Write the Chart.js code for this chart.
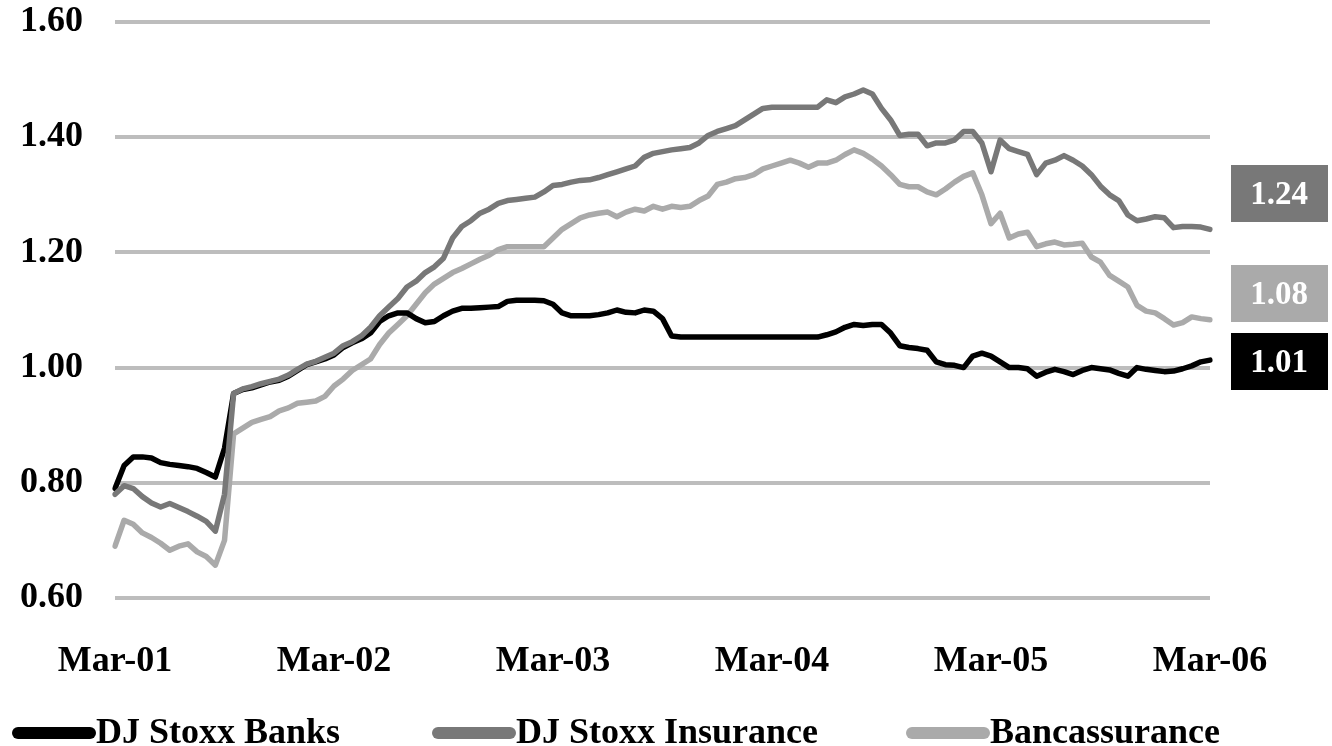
<!DOCTYPE html>
<html>
<head>
<meta charset="utf-8">
<script src="https://cdn.jsdelivr.net/npm/chart.js@4.4.1/dist/chart.umd.min.js"></script>
<style>
  html, body { margin: 0; padding: 0; background: #ffffff; }
  #wrap { width: 1332px; height: 746px; position: relative; }
</style>
</head>
<body>
<div id="wrap"><canvas id="c"></canvas></div>
<script>
// ---- Data (half-month observations, Mar-01 .. Mar-06) ----
const tickLabels = ['Mar-01', 'Mar-02', 'Mar-03', 'Mar-04', 'Mar-05', 'Mar-06'];
const seriesNames = ['DJ Stoxx Banks', 'DJ Stoxx Insurance', 'Bancassurance'];

const banks = [
  0.790, 0.830, 0.845, 0.845, 0.843, 0.835, 0.832, 0.830, 0.828, 0.825,
  0.818, 0.810, 0.860, 0.955, 0.962, 0.965, 0.970, 0.975, 0.978, 0.985,
  0.995, 1.005, 1.010, 1.015, 1.022, 1.035, 1.043, 1.050, 1.060, 1.080,
  1.090, 1.095, 1.095, 1.085, 1.078, 1.080, 1.090, 1.098, 1.103, 1.103,
  1.104, 1.105, 1.106, 1.115, 1.117, 1.117, 1.117, 1.116, 1.110, 1.095,
  1.090, 1.090, 1.090, 1.092, 1.095, 1.100, 1.096, 1.095, 1.100, 1.098,
  1.085, 1.055, 1.053, 1.053, 1.053, 1.053, 1.053, 1.053, 1.053, 1.053,
  1.053, 1.053, 1.053, 1.053, 1.053, 1.053, 1.053, 1.053, 1.057, 1.062,
  1.070, 1.075, 1.073, 1.075, 1.075, 1.060, 1.038, 1.035, 1.033, 1.030,
  1.010, 1.005, 1.004, 1.000, 1.020, 1.025, 1.020, 1.010, 1.000, 1.000,
  0.998, 0.985, 0.992, 0.997, 0.993, 0.988, 0.995, 1.000, 0.998, 0.996,
  0.990, 0.985, 1.000, 0.997, 0.995, 0.993, 0.994, 0.998, 1.003, 1.010,
  1.013
];

const insurance = [
  0.780, 0.795, 0.790, 0.776, 0.765, 0.758, 0.764, 0.757, 0.750, 0.742,
  0.733, 0.716, 0.780, 0.955, 0.963, 0.967, 0.972, 0.976, 0.980, 0.987,
  0.997, 1.006, 1.011, 1.018, 1.025, 1.038, 1.045, 1.055, 1.070, 1.090,
  1.105, 1.120, 1.140, 1.150, 1.165, 1.175, 1.190, 1.225, 1.245, 1.255,
  1.268, 1.275, 1.285, 1.290, 1.292, 1.294, 1.296, 1.305, 1.316, 1.318,
  1.322, 1.325, 1.326, 1.330, 1.335, 1.340, 1.345, 1.350, 1.365, 1.372,
  1.375, 1.378, 1.380, 1.382, 1.390, 1.403, 1.410, 1.415, 1.420, 1.430,
  1.440, 1.450, 1.452, 1.452, 1.452, 1.452, 1.452, 1.452, 1.465, 1.460,
  1.470, 1.475, 1.482, 1.475, 1.450, 1.430, 1.403, 1.405, 1.405, 1.385,
  1.390, 1.390, 1.395, 1.410, 1.410, 1.390, 1.340, 1.395, 1.380, 1.375,
  1.370, 1.335, 1.355, 1.360, 1.368, 1.360, 1.350, 1.335, 1.315, 1.300,
  1.290, 1.265, 1.255, 1.258, 1.262, 1.260, 1.243, 1.245, 1.245, 1.244,
  1.240
];

const bancassurance = [
  0.690, 0.735, 0.728, 0.713, 0.705, 0.695, 0.683, 0.690, 0.694, 0.680,
  0.672, 0.657, 0.700, 0.885, 0.895, 0.905, 0.910, 0.915, 0.925, 0.930,
  0.938, 0.940, 0.942, 0.950, 0.968, 0.980, 0.995, 1.005, 1.015, 1.040,
  1.060, 1.075, 1.090, 1.110, 1.130, 1.145, 1.155, 1.165, 1.172, 1.180,
  1.188, 1.195, 1.205, 1.210, 1.210, 1.210, 1.210, 1.210, 1.225, 1.240,
  1.250, 1.260, 1.265, 1.268, 1.270, 1.262, 1.270, 1.275, 1.272, 1.280,
  1.275, 1.280, 1.278, 1.280, 1.290, 1.298, 1.318, 1.322, 1.328, 1.330,
  1.335, 1.345, 1.350, 1.355, 1.360, 1.355, 1.348, 1.355, 1.355, 1.360,
  1.370, 1.378, 1.372, 1.362, 1.350, 1.335, 1.318, 1.314, 1.314, 1.305,
  1.300, 1.310, 1.322, 1.332, 1.338, 1.300, 1.250, 1.268, 1.225, 1.232,
  1.235, 1.210, 1.215, 1.218, 1.213, 1.214, 1.216, 1.192, 1.183, 1.160,
  1.150, 1.140, 1.108, 1.098, 1.095, 1.085, 1.074, 1.078, 1.088, 1.085,
  1.083
];

// half-month period categories (1st and 16th of each month)
const periods = [];
for (let i = 0; i < banks.length; i++) {
  const mIdx = 2 + Math.floor(i / 2);           // months since Jan-2001
  const yr = 2001 + Math.floor(mIdx / 12);
  const mo = (mIdx % 12) + 1;
  periods.push(yr + '-' + String(mo).padStart(2, '0') + '-' + (i % 2 ? '16' : '01'));
}

// ---- Styling ----
const FONT = '"Liberation Serif", "Times New Roman", serif';
const colBanks = '#000000';
const colIns = '#787878';
const colBanc = '#aaaaaa';

const endBoxes = [
  { ds: 1, color: '#787878', cy: 193 },
  { ds: 2, color: '#aaaaaa', cy: 293 },
  { ds: 0, color: '#000000', cy: 361 }
];

const legendPos = [
  { ds: 0, x: 12 },
  { ds: 1, x: 432 },
  { ds: 2, x: 906 }
];

const extrasPlugin = {
  id: 'extras',
  afterDraw(chart) {
    const ctx = chart.ctx;
    ctx.save();
    // end-value boxes
    endBoxes.forEach(b => {
      const d = chart.data.datasets[b.ds].data;
      const v = d[d.length - 1];
      ctx.fillStyle = b.color;
      ctx.fillRect(1231, b.cy - 28, 97, 57);
      ctx.fillStyle = '#ffffff';
      ctx.font = 'bold 33px ' + FONT;
      ctx.textAlign = 'center';
      ctx.textBaseline = 'middle';
      ctx.fillText(v.toFixed(2), 1279, b.cy + 2);
    });
    // legend
    const ly = 733;
    legendPos.forEach(p => {
      const ds = chart.data.datasets[p.ds];
      ctx.strokeStyle = ds.borderColor;
      ctx.lineWidth = 12;
      ctx.lineCap = 'round';
      ctx.beginPath();
      ctx.moveTo(p.x + 6, ly);
      ctx.lineTo(p.x + 78, ly);
      ctx.stroke();
      ctx.fillStyle = '#000000';
      ctx.font = 'bold 36px ' + FONT;
      ctx.textAlign = 'left';
      ctx.textBaseline = 'middle';
      ctx.fillText(ds.label, p.x + 84, ly + 1);
    });
    ctx.restore();
  }
};

new Chart(document.getElementById('c'), {
  type: 'line',
  data: {
    labels: periods,
    datasets: [
      { label: seriesNames[0], data: banks, borderColor: colBanks, backgroundColor: colBanks, order: 1 },
      { label: seriesNames[1], data: insurance, borderColor: colIns, backgroundColor: colIns, order: 0 },
      { label: seriesNames[2], data: bancassurance, borderColor: colBanc, backgroundColor: colBanc, order: 2 }
    ]
  },
  options: {
    responsive: true,
    maintainAspectRatio: false,
    animation: false,
    layout: { padding: { top: 22, right: 122, left: 0, bottom: 0 } },
    elements: {
      line: { borderWidth: 5.5, tension: 0, borderJoinStyle: 'round', borderCapStyle: 'round' },
      point: { radius: 0, hoverRadius: 0 }
    },
    plugins: {
      legend: { display: false },
      tooltip: { enabled: false }
    },
    scales: {
      x: {
        type: 'category',
        offset: false,
        grid: { display: false, drawTicks: false },
        border: { display: false },
        ticks: {
          autoSkip: false,
          maxRotation: 0,
          minRotation: 0,
          padding: 42,
          color: '#000000',
          font: { family: FONT, size: 36, weight: 'bold' },
          callback: function (val, idx) {
            return idx % 24 === 0 ? tickLabels[idx / 24] : null;
          }
        },
        afterFit: function (scale) { scale.height = 148; scale.paddingLeft = 0; scale.paddingRight = 0; }
      },
      y: {
        min: 0.6,
        max: 1.6,
        grid: { color: '#bdbdbd', lineWidth: 4, drawTicks: false },
        border: { display: false },
        ticks: {
          stepSize: 0.2,
          padding: 32,
          color: '#000000',
          font: { family: FONT, size: 36, weight: 'bold' },
          callback: v => Number(v).toFixed(2)
        },
        afterFit: function (scale) { scale.width = 115; scale.paddingTop = 0; scale.paddingBottom = 0; }
      }
    }
  },
  plugins: [extrasPlugin]
});
</script>
</body>
</html>
